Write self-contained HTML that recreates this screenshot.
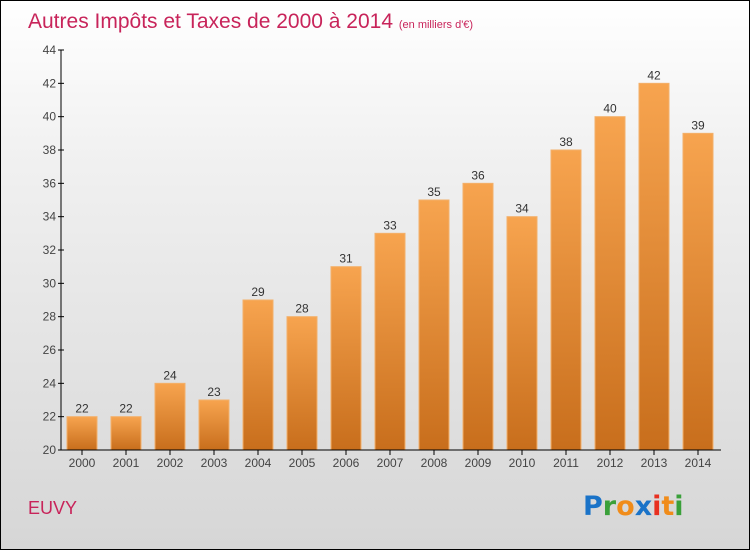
<!DOCTYPE html>
<html><head><meta charset="utf-8"><style>
body{margin:0}
#wrap{width:748px;height:548px;border:1px solid #000;background:linear-gradient(#fff,#f0f0f0 30%,#d6d6d6);position:relative;overflow:hidden;font-family:"Liberation Sans",sans-serif}
</style></head><body>
<div id="wrap">
<svg id="chart" width="750" height="550" style="position:absolute;left:-1px;top:-1px">
<defs><linearGradient id="g" x1="0" y1="0" x2="0" y2="1"><stop offset="0" stop-color="#f7a44f"/><stop offset="1" stop-color="#c86e1c"/></linearGradient></defs>
<text x="28" y="28" font-size="21" fill="#c8245a">Autres Impôts et Taxes de 2000 à 2014 <tspan font-size="11">(en milliers d'€)</tspan></text>
<text x="28" y="514" font-size="18" fill="#c8245a">EUVY</text>
<g font-family="'DejaVu Sans',sans-serif" font-size="27" font-weight="bold">
<text x="583" y="515"><tspan fill="#1a73c8">P</tspan><tspan fill="#3aa03a">r</tspan><tspan fill="#f08c1a">o</tspan><tspan fill="#1a73c8">x</tspan><tspan fill="#e83020">i</tspan><tspan fill="#f08c1a">t</tspan><tspan fill="#3aa03a">i</tspan></text></g>
</svg>
</div>
<script>
const years=["2000","2001","2002","2003","2004","2005","2006","2007","2008","2009","2010","2011","2012","2013","2014"];
const values=[22,22,24,23,29,28,31,33,35,36,34,38,40,42,39];
const yTicks=[20,22,24,26,28,30,32,34,36,38,40,42,44];
const svg=document.getElementById('chart');const NS='http://www.w3.org/2000/svg';
const y=v=>450-(v-20)*(400/24);const x=i=>82+i*44;
function mk(t,a){const e=document.createElementNS(NS,t);for(const k in a)e.setAttribute(k,a[k]);svg.appendChild(e);return e;}
yTicks.forEach(v=>{const l=mk('line',{x1:58,x2:64,y1:y(v),y2:y(v),stroke:'#000'});


const t=mk('text',{x:56,y:y(v)+4,'text-anchor':'end','font-size':12,fill:'#444'});t.textContent=v;

});
values.forEach((v,i)=>{const r=mk('rect',{x:x(i)-15,y:y(v),width:30,height:450-y(v),fill:'url(#g)',stroke:'#f3b06a','stroke-width':1});


const t=mk('text',{x:x(i),y:y(v)-4,'text-anchor':'middle','font-size':12,fill:'#333'});t.textContent=v;


const tk=mk('line',{x1:x(i),x2:x(i),y1:450,y2:455,stroke:'#000'});


const xl=mk('text',{x:x(i),y:467,'text-anchor':'middle','font-size':12,fill:'#444'});xl.textContent=years[i];

});
const ya=mk('line',{x1:61,x2:61,y1:50,y2:450,stroke:'#000'});


const xa=mk('line',{x1:61,x2:721,y1:450,y2:450,stroke:'#000'});


</script>
</body></html>
